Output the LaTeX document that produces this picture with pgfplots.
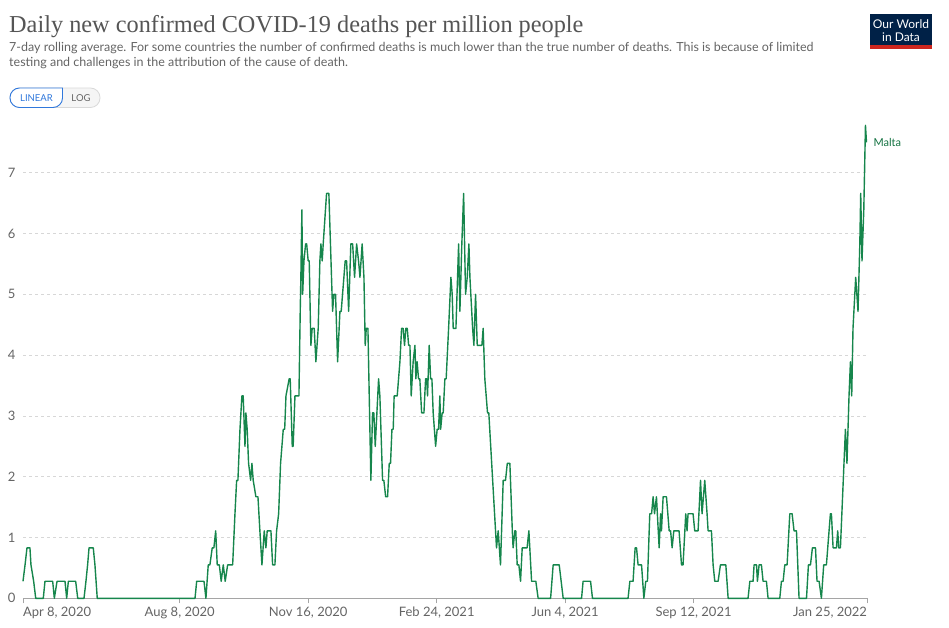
\documentclass[border=0pt]{standalone}
\usepackage{fontspec}
\usepackage{pgfplots}
\usepackage{pgfplotstable}
\pgfplotsset{compat=1.18}
\setmainfont{Lato}
\newfontfamily\titlefont{Liberation Serif}
\definecolor{owidgreen}{RGB}{22,134,76}
\definecolor{titlegray}{RGB}{85,85,85}
\definecolor{subgray}{RGB}{100,100,100}
\definecolor{gridgray}{RGB}{215,215,215}
\definecolor{axisgray}{RGB}{165,165,165}
\definecolor{navy}{RGB}{0,33,71}
\definecolor{owidred}{RGB}{206,38,30}
\definecolor{linblue}{RGB}{48,120,220}

% days since Apr 8, 2020 ; deaths per million (7-day avg)
\pgfplotstableread{
d v
0 0.28
1.6 0.55
3.1 0.83
5.4 0.83
6.2 0.55
8.3 0.28
9.9 0
15.8 0
17.1 0.28
23.1 0.28
24.4 0
26.5 0.28
32.7 0.28
34.0 0
35.3 0.28
41.0 0.28
42.6 0
47.5 0
49.0 0.28
50.3 0.55
51.4 0.83
54.7 0.83
56.0 0.55
57.8 0
133.9 0
135.2 0.28
140.9 0.28
142.4 0
144.2 0.55
145.5 0.55
147.3 0.83
148.6 0.83
150.0 1.11
151.2 0.55
152.8 0.55
154.3 0.28
155.9 0.55
157.4 0.28
159.3 0.55
163.2 0.55
165.0 1.39
166.3 1.94
167.3 1.94
168.9 2.78
170.4 3.33
171.4 3.33
172.8 2.50
173.5 3.05
174.5 2.78
175.6 2.22
177.2 1.94
178.2 2.22
179.2 1.94
181.3 1.67
182.9 1.67
184.4 1.11
186.0 0.55
187.8 1.11
189.1 0.83
190.1 1.11
193.0 1.11
194.3 0.55
196.1 0.55
197.4 1.11
199.0 1.39
200.5 2.22
202.6 2.78
203.7 2.78
204.7 3.33
207.2 3.61
208.0 3.61
209.6 2.50
210.3 2.50
211.7 3.33
214.8 3.33
215.8 4.72
216.3 5.28
217.1 6.39
217.7 5.00
218.7 5.55
220.0 5.83
220.8 5.83
222.0 5.55
222.8 5.55
224.1 4.16
225.1 4.44
226.7 4.44
228.0 3.89
229.8 4.44
231.1 5.55
231.9 5.83
232.9 5.55
233.7 5.83
236.3 6.66
238.1 6.66
241.0 4.72
242.0 5.00
243.3 5.00
244.9 3.89
246.7 4.72
247.7 4.72
250.8 5.55
251.9 5.55
253.5 4.72
255.2 5.83
256.6 5.83
258.1 5.28
259.7 5.83
261.2 5.55
262.3 5.28
264.0 5.83
265.4 5.28
266.4 4.16
267.2 4.44
268.5 4.44
270.8 1.94
272.1 3.05
273.1 3.05
274.2 2.50
276.8 3.61
277.8 3.33
279.9 1.94
280.9 1.94
282.3 1.67
283.8 1.67
285.1 2.22
286.1 2.22
287.2 2.78
288.2 2.78
288.9 3.33
291.3 3.33
293.4 3.89
294.7 4.44
295.9 4.44
297.0 4.16
298.0 4.44
299.1 4.44
300.2 4.16
301.2 4.16
302.2 3.33
303.7 3.89
305.1 4.16
305.8 3.61
306.8 3.89
307.9 3.61
308.9 3.61
310.3 3.05
312.1 3.05
313.4 3.61
314.2 3.61
314.9 3.33
316.2 4.16
317.3 3.61
318.3 3.61
319.3 3.05
321.2 2.50
322.4 2.78
323.5 2.78
324.5 3.33
325.1 2.78
326.3 3.05
327.1 3.05
328.4 3.61
329.4 3.61
331.3 4.44
333.1 5.28
334.1 5.00
334.9 4.44
337.0 4.44
339.1 5.83
340.1 4.72
341.6 5.83
343.0 6.66
344.5 5.00
345.8 5.28
347.1 5.83
347.9 5.28
348.6 5.00
350.0 4.44
351.0 4.16
352.3 5.00
353.6 4.16
357.2 4.16
358.2 4.44
359.5 3.61
361.6 3.05
362.6 3.05
368.6 0.83
369.9 1.11
371.7 0.55
373.8 1.94
375.6 1.94
377.0 2.22
379.0 2.22
380.9 1.11
381.5 0.83
382.9 1.11
383.6 1.11
384.7 0.55
386.0 0.55
387.3 0.28
388.6 0.83
392.4 0.83
393.8 1.11
394.5 0.83
395.9 0.28
399.2 0.28
401.0 0
410.7 0
412.7 0.55
417.4 0.55
420.5 0
434.8 0
436.0 0.28
441.8 0.28
443.3 0
471.0 0
472.4 0.28
474.9 0.28
476.5 0.83
477.6 0.83
478.8 0.55
481.5 0.55
483.3 0
484.8 0.28
486.1 0.28
487.9 1.39
489.3 1.39
490.5 1.67
491.6 1.39
493.1 1.67
495.2 0.83
496.3 1.39
497.0 1.11
498.3 1.67
500.9 1.67
503.0 1.11
504.1 1.11
505.3 0.83
506.6 1.11
510.7 1.11
512.6 0.55
513.8 0.55
515.9 1.39
516.9 1.11
517.7 1.39
521.6 1.39
522.9 1.11
525.5 1.11
527.4 1.94
528.6 1.39
530.7 1.94
532.5 1.39
533.3 1.11
535.9 1.11
537.2 0.55
538.5 0.28
541.1 0.28
542.9 0.55
547.1 0.55
548.9 0
564.4 0
565.8 0.28
568.3 0.28
569.1 0.55
571.0 0.55
571.7 0.28
573.0 0.55
574.8 0.55
576.1 0.28
578.7 0.28
580.0 0
589.1 0
590.4 0.28
591.7 0.28
593.0 0.55
594.8 0.55
596.9 1.39
598.7 1.39
600.2 1.11
602.1 1.11
604.1 0
609.9 0
611.4 0.55
613.0 0.55
614.5 0.83
616.9 0.83
618.1 0.28
619.7 0.28
621.5 0
623.3 0.55
625.4 0.55
628.5 1.39
629.3 1.39
630.6 0.83
633.2 0.83
634.2 1.11
635.0 0.83
636.3 0.83
640.2 2.78
641.4 2.22
643.0 3.33
644.1 3.89
645.1 3.33
646.1 4.44
648.2 5.28
650.0 4.72
651.4 5.83
652.1 6.66
653.1 5.55
654.5 6.39
655.8 7.78
656.6 7.50
}\malta

\begin{document}
\begin{tikzpicture}[x=1pt,y=1pt]
\path[use as bounding box] (0,0) rectangle (949,627);
% title
\node[anchor=base west, inner sep=0, text=titlegray, font=\titlefont\fontsize{24.3}{28}\selectfont] at (9,627-33) {Daily new confirmed COVID-19 deaths per million people};
\node[anchor=base west, inner sep=0, text=subgray, font=\fontsize{12.5}{15}\selectfont] at (9,627-52) {7-day rolling average. For some countries the number of confirmed deaths is much lower than the true number of deaths. This is because of limited};
\node[anchor=base west, inner sep=0, text=subgray, font=\fontsize{12.5}{15}\selectfont] at (9,627-67) {testing and challenges in the attribution of the cause of death.};
% buttons
\draw[fill=gray!8, draw=gray!30, line width=0.8, rounded corners=9.5] (10,627-88) rectangle (100,627-107.5);
\draw[fill=white, draw=linblue, line width=0.9, rounded corners=9.5] (62.5,627-88) -- (10,627-88) -- (10,627-107.5) -- (62.5,627-107.5) [sharp corners]-- cycle;
\node[text=linblue, font=\fontsize{9.5}{10}\selectfont] at (36.5,627-98) {LINEAR};
\node[text=subgray, font=\fontsize{9.5}{10}\selectfont] at (81,627-98) {LOG};
% logo
\fill[navy] (870,627-14) rectangle (932,627-45);
\fill[owidred] (870,627-45) rectangle (932,627-48.7);
\node[text=white, font=\fontsize{12}{12}\selectfont, inner sep=0] at (901,627-24) {Our World};
\node[text=white, font=\fontsize{12}{12}\selectfont, inner sep=0] at (901,627-37) {in Data};

\begin{axis}[
  at={(23pt,28.7pt)}, anchor=south west,
  scale only axis, width=844pt, height=474.2pt,
  xmin=0, xmax=657, ymin=0, ymax=7.8,
  clip=false,
  axis lines*=left,
  axis line style={-},
  x axis line style={draw=axisgray, line width=0.8pt},
  y axis line style={draw=none},
  ytick={0,1,2,3,4,5,6,7},
  ymajorgrids,
  grid style={dashed, gridgray, line width=0.7pt},
  ytick style={draw=none},
  xtick={0,122,222,322,422,522,657},
  xticklabels={{\makebox[0pt][l]{Apr 8, 2020}},{Aug 8, 2020},{Nov 16, 2020},{Feb 24, 2021},{Jun 4, 2021},{Sep 12, 2021},{\makebox[0pt][r]{Jan 25, 2022}}},
  xtick style={draw=axisgray, line width=0.8pt},
  tick align=outside,
  major tick length=5pt,
  /pgf/number format/assume math mode=true,
  yticklabel style={font=\fontsize{13}{13}\selectfont, text=subgray, xshift=1pt},
  xticklabel style={font=\fontsize{13}{13}\selectfont, text=subgray, yshift=0pt},
]
\addplot[owidgreen, line width=1.4pt, line join=round] table[x=d, y=v] {\malta}
  node[pos=1, anchor=west, xshift=3pt, font=\fontsize{11}{11}\selectfont, text=owidgreen!85!black] {Malta};
\end{axis}
\end{tikzpicture}
\end{document}
